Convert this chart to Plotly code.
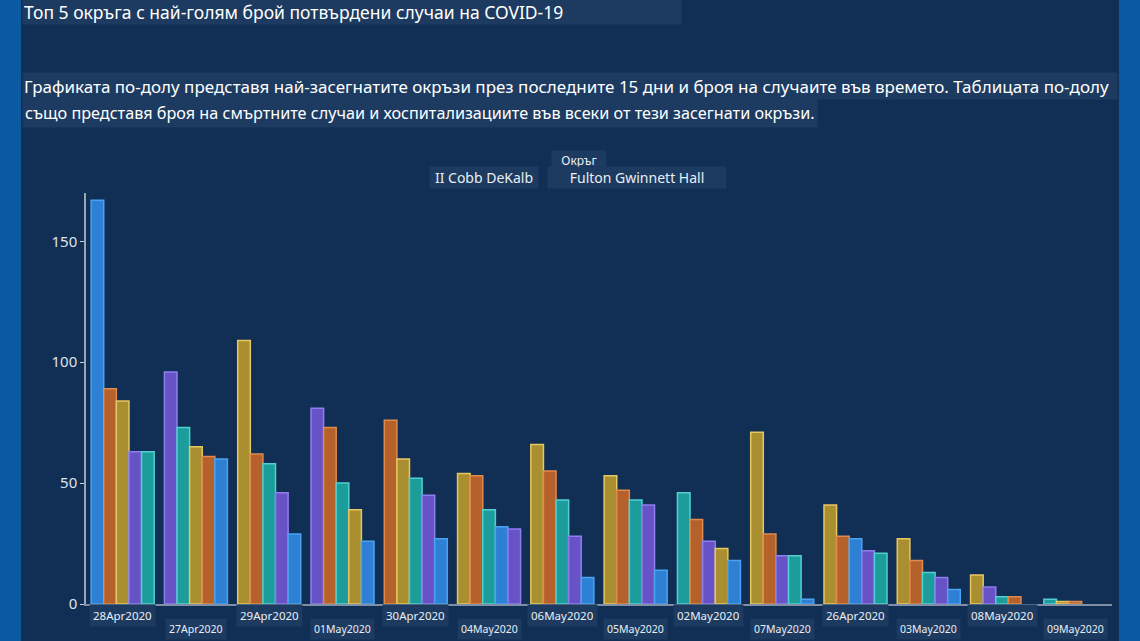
import plotly.graph_objects as go

# x categories, in the order shown (sorted by total cases)
dates = [
    "28Apr2020", "27Apr2020", "29Apr2020", "01May2020", "30Apr2020",
    "04May2020", "06May2020", "05May2020", "02May2020", "07May2020",
    "26Apr2020", "03May2020", "08May2020", "09May2020",
]

counties = ["Cobb", "DeKalb", "Fulton", "Gwinnett", "Hall"]
fill_colors = {
    "Cobb": "#1c9c9b",
    "DeKalb": "#6853c6",
    "Fulton": "#a98f2f",
    "Gwinnett": "#b5612b",
    "Hall": "#2d80d3",
}
edge_colors = {
    "Cobb": "#52cfd0",
    "DeKalb": "#8d7ef0",
    "Fulton": "#e6c763",
    "Gwinnett": "#e08a4c",
    "Hall": "#4ba3ef",
}

# counties per day, ordered from largest to smallest as drawn
ranked_counties = [
    ["Hall", "Gwinnett", "Fulton", "DeKalb", "Cobb"],
    ["DeKalb", "Cobb", "Fulton", "Gwinnett", "Hall"],
    ["Fulton", "Gwinnett", "Cobb", "DeKalb", "Hall"],
    ["DeKalb", "Gwinnett", "Cobb", "Fulton", "Hall"],
    ["Gwinnett", "Fulton", "Cobb", "DeKalb", "Hall"],
    ["Fulton", "Gwinnett", "Cobb", "Hall", "DeKalb"],
    ["Fulton", "Gwinnett", "Cobb", "DeKalb", "Hall"],
    ["Fulton", "Gwinnett", "Cobb", "DeKalb", "Hall"],
    ["Cobb", "Gwinnett", "DeKalb", "Fulton", "Hall"],
    ["Fulton", "Gwinnett", "DeKalb", "Cobb", "Hall"],
    ["Fulton", "Gwinnett", "Hall", "DeKalb", "Cobb"],
    ["Fulton", "Gwinnett", "Cobb", "DeKalb", "Hall"],
    ["Fulton", "DeKalb", "Cobb", "Gwinnett"],
    ["Cobb", "Fulton", "Gwinnett"],
]
ranked_cases = [
    [167, 89, 84, 63, 63],
    [96, 73, 65, 61, 60],
    [109, 62, 58, 46, 29],
    [81, 73, 50, 39, 26],
    [76, 60, 52, 45, 27],
    [54, 53, 39, 32, 31],
    [66, 55, 43, 28, 11],
    [53, 47, 43, 41, 14],
    [46, 35, 26, 23, 18],
    [71, 29, 20, 20, 2],
    [41, 28, 27, 22, 21],
    [27, 18, 13, 11, 6],
    [12, 7, 3, 3],
    [2, 1, 1],
]

title_text = "Топ 5 окръга с най-голям брой потвърдени случаи на COVID-19"
desc_line1 = ("Графиката по-долу представя най-засегнатите окръзи през последните 15 дни "
              "и броя на случаите във времето. Таблицата по-долу")
desc_line2 = "също представя броя на смъртните случаи и хоспитализациите във всеки от тези засегнати окръзи."

W, H = 1140, 641
L, R, T, B = 86, 28, 193, 37
FONT = "Noto Sans"
TXT = "#e9eef4"
BOX = "#1d3b61"
PANEL = "#112e54"


def px(x):
    return (x - L) / (W - L - R)


def py(y):
    return (H - B - y) / (H - T - B)


fig = go.Figure()

# one trace per rank slot so that each group is drawn largest -> smallest
for rank in range(5):
    xs, ys, fills, edges, names = [], [], [], [], []
    for d, cs, vs in zip(dates, ranked_counties, ranked_cases):
        if rank < len(vs):
            xs.append(d)
            ys.append(vs[rank])
            fills.append(fill_colors[cs[rank]])
            edges.append(edge_colors[cs[rank]])
            names.append(cs[rank])
    fig.add_trace(
        go.Bar(
            x=xs,
            y=ys,
            customdata=names,
            marker=dict(color=fills, line=dict(color=edges, width=1.5)),
            hovertemplate="%{x}<br>%{customdata}: %{y}<extra></extra>",
            showlegend=False,
        )
    )

annotations = []

# staggered date labels under the axis
for i, d in enumerate(dates):
    lower = i % 2 == 1
    annotations.append(dict(
        x=d, xref="x", y=0, yref="paper",
        yshift=-25 if lower else -11, yanchor="middle",
        text=d, showarrow=False,
        font=dict(family=FONT, size=10.5 if lower else 11.5, color=TXT),
        bgcolor=BOX, borderpad=3,
    ))

# heading and description
annotations += [
    dict(x=px(22), y=py(12), xref="paper", yref="paper", xanchor="left", yanchor="middle",
         text=title_text, showarrow=False, width=656, height=22, align="left",
         font=dict(family=FONT, size=17.5, color="#ffffff"), bgcolor=BOX, borderpad=1),
    dict(x=px(22), y=py(86), xref="paper", yref="paper", xanchor="left", yanchor="middle",
         text=desc_line1, showarrow=False, width=1092, height=24, align="left",
         font=dict(family=FONT, size=17, color="#ffffff"), bgcolor=BOX, borderpad=1),
    dict(x=px(22), y=py(113), xref="paper", yref="paper", xanchor="left", yanchor="middle",
         text=desc_line2, showarrow=False, height=24, align="left",
         font=dict(family=FONT, size=16.2, color="#ffffff"), bgcolor=BOX, borderpad=2),
]

# legend header, drawn as plain text like the original
annotations += [
    dict(x=px(579), y=py(160), xref="paper", yref="paper", xanchor="center", yanchor="middle",
         text="Окръг", showarrow=False, width=52,
         font=dict(family=FONT, size=12, color=TXT), bgcolor=BOX, borderpad=1),
    dict(x=px(484), y=py(177), xref="paper", yref="paper", xanchor="center", yanchor="middle",
         text="II " + " ".join(counties[:2]), showarrow=False, width=106,
         font=dict(family=FONT, size=14, color=TXT), bgcolor=BOX, borderpad=1),
    dict(x=px(637), y=py(177), xref="paper", yref="paper", xanchor="center", yanchor="middle",
         text=" ".join(counties[2:]), showarrow=False, width=176,
         font=dict(family=FONT, size=14, color=TXT), bgcolor=BOX, borderpad=1),
]

fig.update_layout(
    width=W,
    height=H,
    margin=dict(l=L, r=R, t=T, b=B),
    paper_bgcolor="#0b5aa1",
    plot_bgcolor="rgba(0,0,0,0)",
    barmode="group",
    bargap=0.14,
    bargroupgap=0,
    showlegend=False,
    font=dict(family=FONT, color=TXT),
    annotations=annotations,
    shapes=[
        dict(type="rect", xref="paper", yref="paper",
             x0=px(21), x1=px(1119), y0=py(H), y1=py(0),
             fillcolor=PANEL, line=dict(width=0), layer="below"),
    ],
    xaxis=dict(
        type="category",
        categoryorder="array",
        categoryarray=dates,
        showticklabels=False,
        showgrid=False,
        showline=True,
        linecolor="#7f90a6",
        linewidth=1.5,
        ticks="",
    ),
    yaxis=dict(
        range=[0, 170],
        tickvals=[0, 50, 100, 150],
        showgrid=False,
        zeroline=False,
        showline=True,
        linecolor="#9aa7b7",
        linewidth=1.5,
        ticks="outside",
        ticklen=4,
        tickcolor="#c9d2dc",
        tickfont=dict(family=FONT, size=15, color="#dde4ec"),
    ),
)

# drop the default page margin so the figure fills the window
fig.write_html(
    "out.html",
    config={"displayModeBar": False},
    post_script="document.body.style.margin='0';",
)
